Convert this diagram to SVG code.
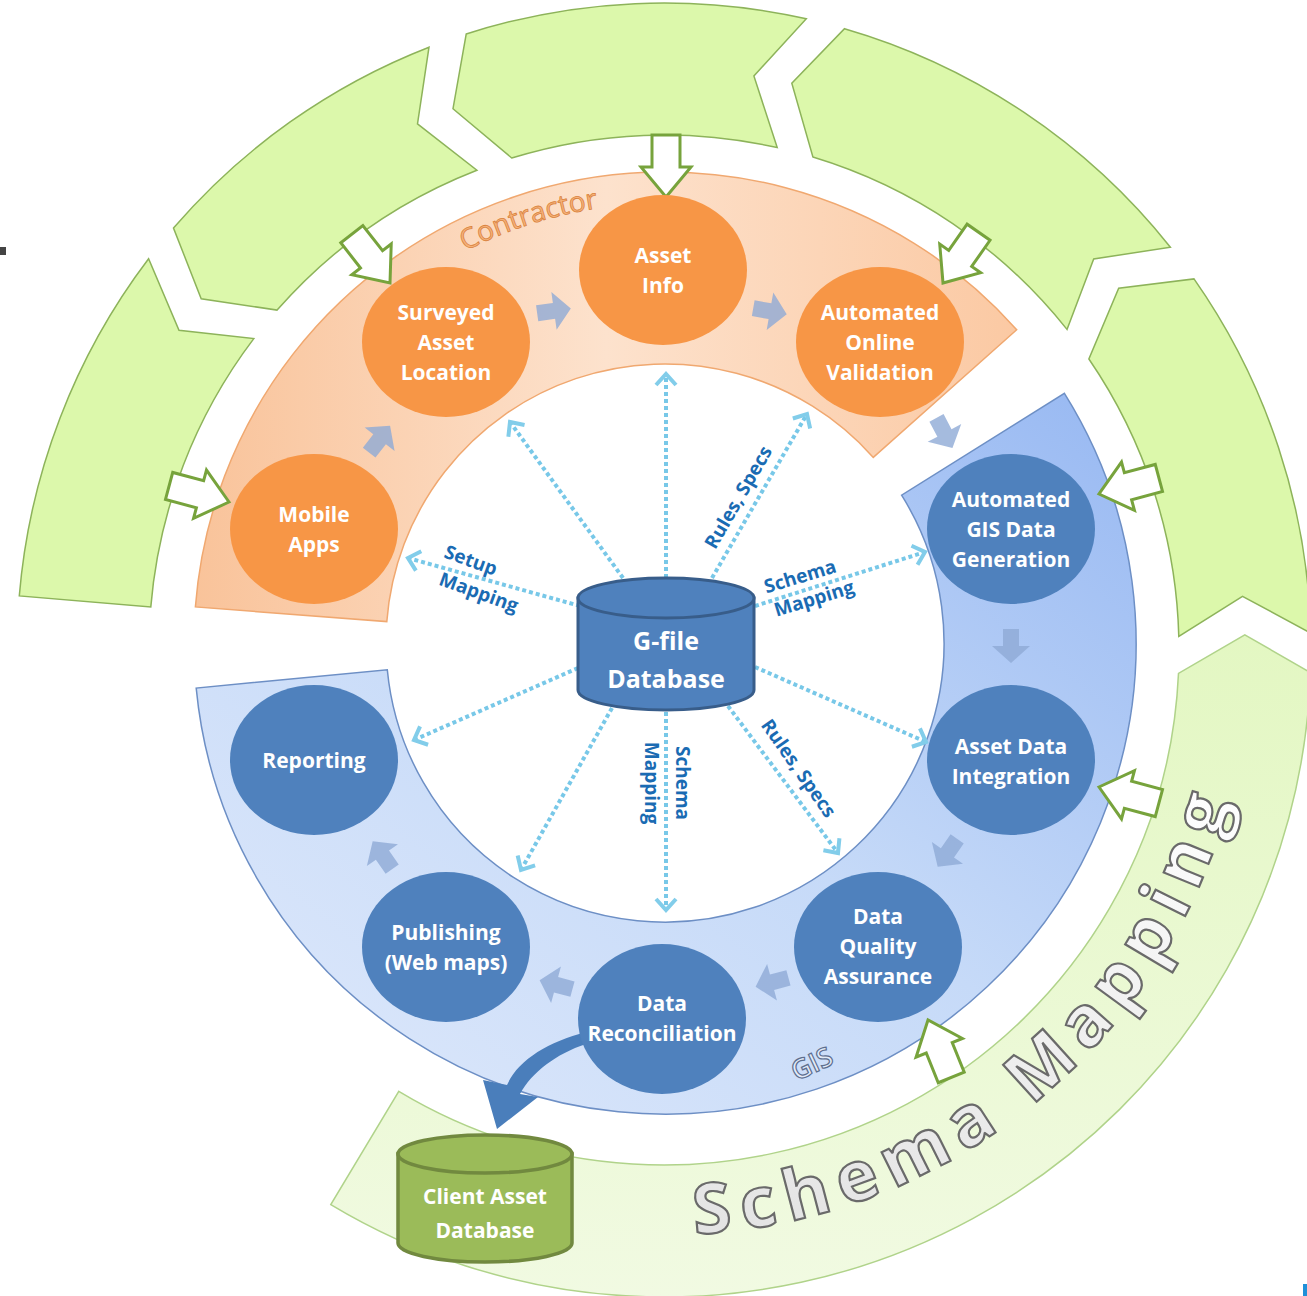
<svg xmlns="http://www.w3.org/2000/svg" width="1307" height="1296" viewBox="0 0 1307 1296">
<defs>
<linearGradient id="gBlue" x1="1" y1="0" x2="0" y2="1">
<stop offset="0" stop-color="#97b8f2"/>
<stop offset="0.5" stop-color="#c6daf8"/>
<stop offset="1" stop-color="#dfe9fb"/>
</linearGradient>
<linearGradient id="gOrange" x1="0" y1="0" x2="1" y2="0">
<stop offset="0" stop-color="#f9c39a"/>
<stop offset="0.5" stop-color="#fde2cd"/>
<stop offset="1" stop-color="#fbc9a3"/>
</linearGradient>
<linearGradient id="gSchema" x1="0" y1="0" x2="0" y2="1">
<stop offset="0" stop-color="#e3f7c2"/>
<stop offset="1" stop-color="#f1fae2"/>
</linearGradient>
<linearGradient id="gTxt" x1="0" y1="0" x2="0" y2="1">
<stop offset="0" stop-color="#ffffff"/>
<stop offset="1" stop-color="#e2e2e2"/>
</linearGradient>
<marker id="ah" markerUnits="userSpaceOnUse" markerWidth="30" markerHeight="30" viewBox="-15 -15 30 30" refX="0" refY="0" orient="auto">
<path d="M-11,-10 L0,0 L-11,10" fill="none" stroke="#82cdea" stroke-width="4"/>
</marker>
<path id="pa" d="M-16,-8 L1,-8 L1,-19 L18,0 L1,19 L1,8 L-16,8 Z"/>
<path id="ga" d="M0,0 L-30,-25 L-30,-14 L-62,-14 L-62,14 L-30,14 L-30,25 Z"/>
<path id="smp" d="M 694.6 1234.2 A 585 585 0 0 0 1230.4 796.5"/>
<path id="ctp" d="M 465.2 251 A 440 440 0 0 1 611.4 206.3"/>
</defs>
<style>
.seg{fill:#dcf8ab;stroke:#8db35a;stroke-width:1.5}
.schema{fill:url(#gSchema);stroke:#b0d38a;stroke-width:1.5}
.on{fill:#f79646}
.bn{fill:#4f81bd}
.nt{font-family:"Open Sans","Liberation Sans",sans-serif;font-weight:700;font-size:21px;fill:#ffffff;text-anchor:middle}
.lbl{font-family:"Open Sans","Liberation Sans",sans-serif;font-weight:700;font-size:19px;fill:#1a6bb3;text-anchor:middle}
.conn{stroke:#78c8e8;stroke-width:4;stroke-dasharray:4 3;fill:none;marker-end:url(#ah)}
.pa{fill:#8eaad6;opacity:0.8}
.ga{fill:#ffffff;stroke:#77a33c;stroke-width:3}
</style>

<g id="outer-ring">
<path class="seg" d="M 19.3 595.9 A 647 647 0 0 1 148.6 258.8 L 179.0 330.2 L 253.8 338.6 A 515 515 0 0 0 150.8 606.9 Z"/>
<path class="seg" d="M 173.5 228.1 A 647 647 0 0 1 429.0 47.2 L 417.5 123.9 L 476.9 170.2 A 515 515 0 0 0 277.1 310.1 L 201.2 298.7 Z"/>
<path class="seg" d="M 466.2 34.0 A 647 647 0 0 1 806.3 18.8 L 753.9 76.0 L 777.2 147.6 A 515 515 0 0 0 511.7 158.0 L 453.0 108.7 Z"/>
<path class="seg" d="M 844.5 28.7 A 647 647 0 0 1 1170.4 247.2 L 1093.7 259.0 L 1067.0 329.4 A 515 515 0 0 0 812.9 157.0 L 791.8 83.2 Z"/>
<path class="seg" d="M 1194.0 278.9 A 647 647 0 0 1 1310.8 633.1 L 1242.5 596.3 L 1178.8 636.5 A 515 515 0 0 0 1088.9 359.0 L 1118.7 288.3 Z"/>
<path class="schema" d="M 1310.6 672.6 A 647 647 0 0 1 330.8 1204.6 L 398.8 1091.4 A 515 515 0 0 0 1178.5 673.4 L 1244.8 634.8 Z"/>
<text font-family="'Open Sans','Liberation Sans',sans-serif" font-weight="700" font-size="70" fill="url(#gTxt)" stroke="#6a6a6a" stroke-width="2.2"><textPath href="#smp" textLength="735" lengthAdjust="spacing">Schema Mapping</textPath></text>
</g>

<g id="contractor-band">
<path d="M 195.4 606.9 A 471 471 0 0 1 1016.7 329.7 L 873.3 457.4 A 279 279 0 0 0 386.8 621.6 Z" fill="url(#gOrange)" stroke="#f0a870" stroke-width="1.5"/>
<text font-family="'Open Sans','Liberation Sans',sans-serif" font-size="28" fill="#f6b27a" stroke="#d9823c" stroke-width="0.8"><textPath href="#ctp">Contractor</textPath></text>
</g>

<g id="gis-band">
<path d="M 1064.4 393.4 A 471 471 0 1 1 196.2 688.1 L 387.3 669.7 A 279 279 0 1 0 901.6 495.2 Z" fill="url(#gBlue)" stroke="#6d8fc5" stroke-width="1.5"/>
<text transform="translate(812,1064) rotate(-25)" y="9" text-anchor="middle" font-family="'Open Sans','Liberation Sans',sans-serif" font-weight="600" font-size="27" fill="#e2ebf8" stroke="#5d6e8f" stroke-width="1.2">GIS</text>
</g>

<g id="inputs">
<use href="#ga" class="ga" transform="translate(666,197) rotate(90)"/>
<use href="#ga" class="ga" transform="translate(390,283) rotate(52)"/>
<use href="#ga" class="ga" transform="translate(943,283) rotate(125)"/>
<use href="#ga" class="ga" transform="translate(229,502) rotate(15)"/>
<use href="#ga" class="ga" transform="translate(1099,494) rotate(165)"/>
<use href="#ga" class="ga" transform="translate(1099,787) rotate(195)"/>
<use href="#ga" class="ga" transform="translate(928,1020) rotate(-112)"/>
</g>

<g id="flow-arrows">
<use href="#pa" class="pa" transform="translate(379,440) rotate(-52)"/>
<use href="#pa" class="pa" transform="translate(553,311) rotate(-8)"/>
<use href="#pa" class="pa" transform="translate(769,311) rotate(10)"/>
<use href="#pa" class="pa" transform="translate(944,432) rotate(62)"/>
<use href="#pa" class="pa" transform="translate(1011,645) rotate(90)"/>
<use href="#pa" class="pa" transform="translate(948,852) rotate(125)"/>
<use href="#pa" class="pa" transform="translate(773,982) rotate(165)"/>
<use href="#pa" class="pa" transform="translate(557,985) rotate(195)"/>
<use href="#pa" class="pa" transform="translate(383,856) rotate(235)"/>
</g>

<g id="connectors">
<line class="conn" x1="580" y1="606" x2="408" y2="558"/>
<line class="conn" x1="623" y1="578" x2="510" y2="422"/>
<line class="conn" x1="666" y1="578" x2="666" y2="374"/>
<line class="conn" x1="712" y1="578" x2="807" y2="414"/>
<line class="conn" x1="755" y1="606" x2="925" y2="552"/>
<line class="conn" x1="755" y1="667" x2="926" y2="742"/>
<line class="conn" x1="728" y1="706" x2="838" y2="853"/>
<line class="conn" x1="666" y1="712" x2="666" y2="910"/>
<line class="conn" x1="612" y1="708" x2="521" y2="870"/>
<line class="conn" x1="578" y1="668" x2="414" y2="740"/>
<text class="lbl" transform="translate(471,560) rotate(20)" y="7">Setup</text>
<text class="lbl" transform="translate(479,592) rotate(20)" y="7">Mapping</text>
<text class="lbl" transform="translate(738,497) rotate(-60)" y="7">Rules, Specs</text>
<text class="lbl" transform="translate(800,576) rotate(-17)" y="7">Schema</text>
<text class="lbl" transform="translate(814,598) rotate(-17)" y="7">Mapping</text>
<text class="lbl" transform="translate(799,768) rotate(55)" y="7">Rules, Specs</text>
<text class="lbl" transform="translate(683,783) rotate(90)" y="7">Schema</text>
<text class="lbl" transform="translate(652,783) rotate(90)" y="7">Mapping</text>
<path d="M 586 1032 C 548 1042, 518 1060, 507 1085 L 483 1080 L 497 1129 L 538 1097 L 520 1094 C 532 1072, 556 1054, 586 1044 Z" fill="#4a7ebb"/>
</g>

<g id="mobile-apps"><ellipse class="on" cx="314" cy="529" rx="84" ry="75"/><text class="nt" x="314" y="522">Mobile</text><text class="nt" x="314" y="552">Apps</text></g>
<g id="surveyed-asset-location"><ellipse class="on" cx="446" cy="342" rx="84" ry="75"/><text class="nt" x="446" y="320">Surveyed</text><text class="nt" x="446" y="350">Asset</text><text class="nt" x="446" y="380">Location</text></g>
<g id="asset-info"><ellipse class="on" cx="663" cy="270" rx="84" ry="75"/><text class="nt" x="663" y="263">Asset</text><text class="nt" x="663" y="293">Info</text></g>
<g id="automated-online-validation"><ellipse class="on" cx="880" cy="342" rx="84" ry="75"/><text class="nt" x="880" y="320">Automated</text><text class="nt" x="880" y="350">Online</text><text class="nt" x="880" y="380">Validation</text></g>
<g id="automated-gis-data-generation"><ellipse class="bn" cx="1011" cy="529" rx="84" ry="75"/><text class="nt" x="1011" y="507">Automated</text><text class="nt" x="1011" y="537">GIS Data</text><text class="nt" x="1011" y="567">Generation</text></g>
<g id="asset-data-integration"><ellipse class="bn" cx="1011" cy="760" rx="84" ry="75"/><text class="nt" x="1011" y="754">Asset Data</text><text class="nt" x="1011" y="784">Integration</text></g>
<g id="data-quality-assurance"><ellipse class="bn" cx="878" cy="947" rx="84" ry="75"/><text class="nt" x="878" y="924">Data</text><text class="nt" x="878" y="954">Quality</text><text class="nt" x="878" y="984">Assurance</text></g>
<g id="data-reconciliation"><ellipse class="bn" cx="662" cy="1019" rx="84" ry="75"/><text class="nt" x="662" y="1011">Data</text><text class="nt" x="662" y="1041">Reconciliation</text></g>
<g id="publishing"><ellipse class="bn" cx="446" cy="947" rx="84" ry="75"/><text class="nt" x="446" y="940">Publishing</text><text class="nt" x="446" y="970">(Web maps)</text></g>
<g id="reporting"><ellipse class="bn" cx="314" cy="760" rx="84" ry="75"/><text class="nt" x="314" y="768">Reporting</text></g>

<g id="g-file-database">
<path d="M 578 598 L 578 690 A 88 20 0 0 0 754 690 L 754 598 Z" fill="#4f81bd" stroke="#385d8a" stroke-width="3"/>
<ellipse cx="666" cy="598" rx="88" ry="20" fill="#4f81bd" stroke="#385d8a" stroke-width="3"/>
<text class="nt" x="666" y="650" style="font-size:25px">G-file</text>
<text class="nt" x="666" y="688" style="font-size:25px">Database</text>
</g>

<g id="client-asset-database">
<path d="M 398 1154 L 398 1243 A 87 19 0 0 0 572 1243 L 572 1154 Z" fill="#9bbb59" stroke="#71893f" stroke-width="3.5"/>
<ellipse cx="485" cy="1154" rx="87" ry="19" fill="#9bbb59" stroke="#71893f" stroke-width="3.5"/>
<text class="nt" x="485" y="1204">Client Asset</text>
<text class="nt" x="485" y="1238">Database</text>
</g>

<rect x="0" y="247" width="6" height="8" fill="#444444"/>
<rect x="1303" y="1284" width="4" height="12" fill="#1e90d8"/>
</svg>
